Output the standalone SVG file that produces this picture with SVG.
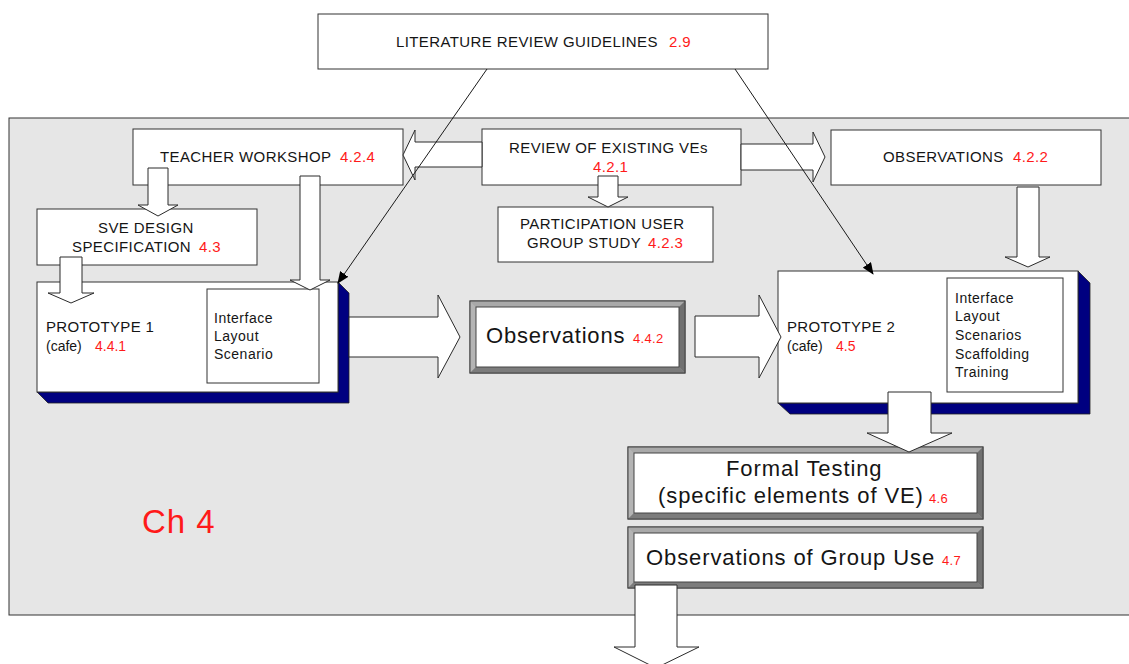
<svg xmlns="http://www.w3.org/2000/svg" width="1129" height="664" viewBox="0 0 1129 664">
<defs>
<style>
text{font-family:"Liberation Sans",Arial,sans-serif;fill:#151515}
.cap{font-size:15px;letter-spacing:0.4px}
.sm{font-size:14px;letter-spacing:0.5px}
.big{font-size:22px;letter-spacing:0.9px}
.r{fill:#ff1a1a}
.n13{font-size:13px;letter-spacing:0.3px}
.box{fill:#ffffff;stroke:#333333;stroke-width:1}
.shadow{fill:#000080;stroke:#222222;stroke-width:0.8}
.blk{fill:#ffffff;stroke:#2a2a2a;stroke-width:1;stroke-linejoin:miter}
.thin{fill:none;stroke:#1a1a1a;stroke-width:1}
.bt{fill:#a9a9a9}
.bl{fill:#b4b4b4}
.br{fill:#707070}
.bb{fill:#7c7c7c}
.bev{stroke:#444444;stroke-width:1;fill:none}
</style>
<marker id="ah" markerWidth="12" markerHeight="10" refX="11" refY="5" orient="auto" markerUnits="userSpaceOnUse">
<path d="M0,0 L12,5 L0,10 Z" fill="#000000"/>
</marker>
</defs>

<rect x="0" y="0" width="1129" height="664" fill="#ffffff"/>

<g id="panel">
<rect x="9" y="118" width="1130" height="497" fill="#e6e6e6" stroke="#333333" stroke-width="1"/>
<text x="142" y="533" style="font-size:33px;letter-spacing:1px" class="r">Ch 4</text>
</g>

<g id="literature">
<rect class="box" x="318" y="14" width="450" height="55"/>
<text class="cap" x="396" y="47">LITERATURE REVIEW GUIDELINES<tspan class="r" x="669">2.9</tspan></text>
</g>

<g id="teacher">
<rect class="box" x="133" y="129" width="270" height="56"/>
<text class="cap" x="160" y="162">TEACHER WORKSHOP<tspan class="r" x="340">4.2.4</tspan></text>
</g>

<g id="review">
<rect class="box" x="482" y="129" width="259" height="56"/>
<text class="cap" x="509" y="153">REVIEW OF EXISTING VEs</text>
<text class="cap r" x="593" y="172">4.2.1</text>
</g>

<g id="observations1">
<rect class="box" x="831" y="130" width="270" height="55"/>
<text class="cap" x="883" y="162">OBSERVATIONS<tspan class="r" x="1013">4.2.2</tspan></text>
</g>

<g id="sve">
<rect class="box" x="37" y="209" width="220" height="56"/>
<text class="cap" x="98" y="233">SVE DESIGN</text>
<text class="cap" x="72" y="252">SPECIFICATION<tspan class="r" x="199">4.3</tspan></text>
</g>

<g id="participation">
<rect class="box" x="498" y="207" width="215" height="55"/>
<text class="cap" x="520" y="229">PARTICIPATION USER</text>
<text class="cap" x="527" y="248">GROUP STUDY<tspan class="r" x="648">4.2.3</tspan></text>
</g>

<g id="prototype1">
<polygon class="shadow" points="338,282 349,293 349,403 48,403 37,392 338,392"/>
<rect class="box" x="37" y="282" width="301" height="110"/>
<text style="font-size:15px;letter-spacing:0.3px" x="46" y="332">PROTOTYPE 1</text>
<text style="font-size:14px" x="46" y="351">(cafe)<tspan class="r" x="95">4.4.1</tspan></text>
<rect class="box" x="207" y="289" width="112" height="94"/>
<text class="sm" x="214" y="323">Interface</text>
<text class="sm" x="214" y="341">Layout</text>
<text class="sm" x="214" y="359">Scenario</text>
</g>

<g id="observations2">
<rect x="470" y="301" width="215" height="72" fill="#999999" stroke="#444444"/>
<polygon class="bt" points="470,301 685,301 679,307 476,307"/>
<polygon class="bl" points="470,301 476,307 476,367 470,373"/>
<polygon class="br" points="685,301 685,373 679,367 679,307"/>
<polygon class="bb" points="470,373 476,367 679,367 685,373"/>
<rect x="476" y="307" width="203" height="60" fill="#ffffff" stroke="#444444"/>
<rect class="bev" x="470" y="301" width="215" height="72"/>
<text style="font-size:22px;letter-spacing:0.8px" x="486" y="343">Observations<tspan class="r n13" x="633">4.4.2</tspan></text>
</g>

<g id="prototype2">
<polygon class="shadow" points="1078,271 1090,283 1090,414 790,414 778,403 1078,403"/>
<rect class="box" x="778" y="271" width="300" height="132"/>
<text style="font-size:15px;letter-spacing:0.3px" x="787" y="332">PROTOTYPE 2</text>
<text style="font-size:14px" x="787" y="351">(cafe)<tspan class="r" x="836">4.5</tspan></text>
<rect class="box" x="947" y="278" width="116" height="114"/>
<text class="sm" x="955" y="303">Interface</text>
<text class="sm" x="955" y="321">Layout</text>
<text class="sm" x="955" y="340">Scenarios</text>
<text class="sm" x="955" y="359">Scaffolding</text>
<text class="sm" x="955" y="377">Training</text>
</g>

<g id="formal">
<rect x="628" y="447" width="355" height="72" fill="#999999" stroke="#444444"/>
<polygon class="bt" points="628,447 983,447 977,453 634,453"/>
<polygon class="bl" points="628,447 634,453 634,513 628,519"/>
<polygon class="br" points="983,447 983,519 977,513 977,453"/>
<polygon class="bb" points="628,519 634,513 977,513 983,519"/>
<rect x="634" y="453" width="343" height="60" fill="#ffffff" stroke="#444444"/>
<rect class="bev" x="628" y="447" width="355" height="72"/>
<text class="big" x="726" y="476">Formal Testing</text>
<text class="big" x="658" y="503">(specific elements of VE)<tspan class="r n13" x="929">4.6</tspan></text>
</g>

<g id="groupuse">
<rect x="628" y="527" width="355" height="61" fill="#999999" stroke="#444444"/>
<polygon class="bt" points="628,527 983,527 977,533 634,533"/>
<polygon class="bl" points="628,527 634,533 634,582 628,588"/>
<polygon class="br" points="983,527 983,588 977,582 977,533"/>
<polygon class="bb" points="628,588 634,582 977,582 983,588"/>
<rect x="634" y="533" width="343" height="49" fill="#ffffff" stroke="#444444"/>
<rect class="bev" x="628" y="527" width="355" height="61"/>
<text class="big" x="646" y="565">Observations of Group Use<tspan class="r n13" x="942">4.7</tspan></text>
</g>

<g id="connectors">
<polygon class="blk" points="148,168 168,168 168,205 178,205 158,216 138,205 148,205"/>
<polygon class="blk" points="300,176 320,176 320,280 330,280 310,290 290,280 300,280"/>
<polygon class="blk" points="60,257 82,257 82,293 94,293 71,303 48,293 60,293"/>
<polygon class="blk" points="482,142 415,142 415,130 403,155 415,180 415,167 482,167"/>
<polygon class="blk" points="741,144 813,144 813,132 825,157 813,182 813,170 741,170"/>
<polygon class="blk" points="598,176 618,176 618,197 628,197 608,207 588,197 598,197"/>
<polygon class="blk" points="1017,187 1039,187 1039,257 1050,257 1028,267 1005,257 1017,257"/>
<polygon class="blk" points="349,317 438,317 438,295 460,337 438,378 438,357 349,357"/>
<polygon class="blk" points="695,316 759,316 759,295 781,337 759,378 759,357 695,357"/>
<polygon class="blk" points="888,392 931,392 931,433 952,433 909,452 867,433 888,433"/>
<polygon class="blk" points="635,585 677,585 677,647 699,647 656,668 614,647 635,647"/>
<line class="thin" x1="487" y1="69" x2="338" y2="283" marker-end="url(#ah)"/>
<line class="thin" x1="735" y1="69" x2="873" y2="274" marker-end="url(#ah)"/>
</g>
</svg>
